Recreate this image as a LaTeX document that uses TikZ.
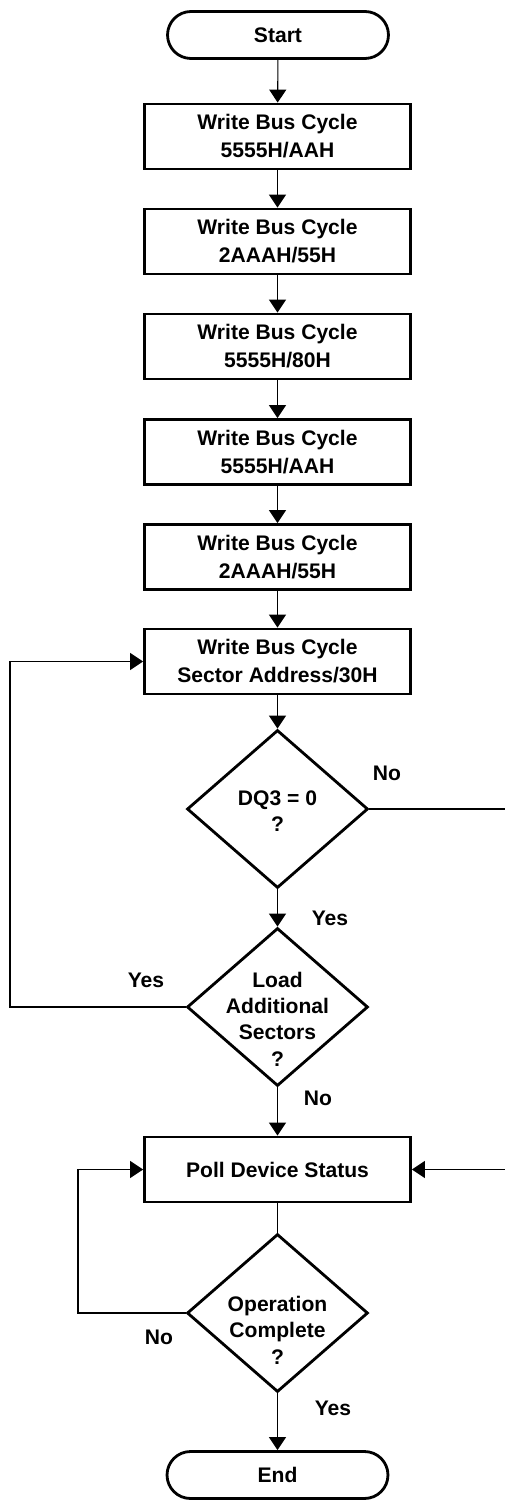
\documentclass[tikz,border=0pt]{standalone}
\usepackage{fontspec}
\setmainfont{Liberation Sans}
\usetikzlibrary{shapes, arrows.meta, positioning}

\tikzset{
  caja/.style={draw, line width=1.6pt, minimum width=5.32cm, minimum height=1.30cm,
    inner sep=0pt, align=center, font=\fontsize{12}{16}\selectfont\bfseries},
  terminal/.style={draw, line width=1.6pt, minimum width=4.42cm, minimum height=0.94cm,
    rounded corners=0.47cm, inner sep=0pt, font=\fontsize{12}{16}\selectfont\bfseries},
  rombo/.style={draw, diamond, line width=1.6pt, minimum width=3.62cm, minimum height=3.16cm,
    inner sep=0pt},
  textorombo/.style={align=center, inner sep=0pt, font=\fontsize{12}{15}\selectfont\bfseries},
  etiqueta/.style={inner sep=0pt, font=\fontsize{12}{15}\selectfont\bfseries},
  flecha/.style={line width=0.6pt, -{Triangle[length=0.26cm, width=0.34cm]}},
  linea/.style={line width=0.6pt}
}

\begin{document}
\begin{tikzpicture}[x=0.02cm, y=-0.02cm]
        \useasboundingbox (0,0) rectangle (504,1500);
        % Inicio y ciclos de escritura
        \node[terminal] (start) at (278,35) {Start};
        \node[caja] (wbc1) at (277.5,136.5) {Write Bus Cycle\\5555H/AAH};
        \node[caja] (wbc2) at (277.5,241.5) {Write Bus Cycle\\2AAAH/55H};
        \node[caja] (wbc3) at (277.5,346.5) {Write Bus Cycle\\5555H/80H};
        \node[caja] (wbc4) at (277.5,452) {Write Bus Cycle\\5555H/AAH};
        \node[caja] (wbc5) at (277.5,557) {Write Bus Cycle\\2AAAH/55H};
        \node[caja] (sector) at (277.5,661.5) {Write Bus Cycle\\Sector Address/30H};
        % Decisiones
        \node[rombo] (dq3) at (277.5,809) {};
        \node[textorombo] (dq3txt) at (277.5,811) {DQ3 = 0\\?};
        \node[rombo] (load) at (277.5,1007) {};
        \node[textorombo] (loadtxt) at (277.5,1019) {Load\\Additional\\Sectors\\?};
        \node[caja] (poll) at (277.5,1169.5) {Poll Device Status};
        \node[rombo] (opc) at (277.5,1313) {};
        \node[textorombo] (opctxt) at (277.5,1330) {Operation\\Complete\\?};
        \node[terminal] (finish) at (277.5,1475) {End};
        % Flechas principales
        \draw[flecha] (start) -- (wbc1);
        \draw[flecha] (wbc1) -- (wbc2);
        \draw[flecha] (wbc2) -- (wbc3);
        \draw[flecha] (wbc3) -- (wbc4);
        \draw[flecha] (wbc4) -- (wbc5);
        \draw[flecha] (wbc5) -- (sector);
        \draw[flecha] (sector) -- (dq3.north);
        \draw[flecha] (dq3.south) -- (load.north);
        \draw[flecha] (load.south) -- (poll);
        \draw[linea] (poll) -- (opc.north);
        \draw[flecha] (opc.south) -- (finish);
        % Retornos
        \draw[flecha] (dq3.east) -- (507,809) -- (507,1169.5) -- (poll.east);
        \draw[flecha] (load.west) -- (10,1007) -- (10,661.5) -- (sector.west);
        \draw[flecha] (opc.west) -- (78,1313) -- (78,1169.5) -- (poll.west);
        % Etiquetas
        \node[etiqueta] (noa) at (387,773) {No};
        \node[etiqueta] (sia) at (330,918) {Yes};
        \node[etiqueta] (sib) at (146,980) {Yes};
        \node[etiqueta] (nob) at (318,1098) {No};
        \node[etiqueta] (noc) at (159,1337) {No};
        \node[etiqueta] (sic) at (333,1408) {Yes};
    \end{tikzpicture}
\end{document}
